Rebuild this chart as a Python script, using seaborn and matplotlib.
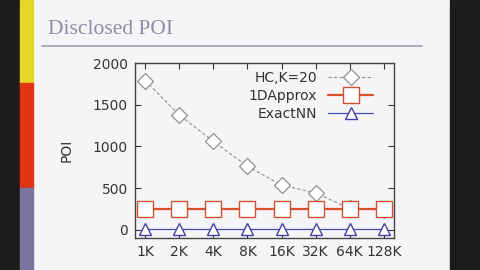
import matplotlib
matplotlib.use("Agg")
import matplotlib.pyplot as plt
from matplotlib.patches import Rectangle
from matplotlib.lines import Line2D
import seaborn as sns
import pandas as pd

categories = ["1K", "2K", "4K", "8K", "16K", "32K", "64K", "128K"]
hc_k20 = [1790, 1375, 1060, 760, 535, 440, 255, 232]
approx1d = [245, 245, 245, 245, 245, 245, 245, 245]
exact_nn = [8, 8, 8, 8, 8, 8, 8, 8]
series_names = ["HC,K=20", "1DApprox", "ExactNN"]
y_ticks = [0, 500, 1000, 1500, 2000]

sns.set_theme(style="ticks")
plt.rcParams['font.family'] = ['DejaVu Sans']

bg = "#f5f5f7"
fig = plt.figure(figsize=(4.8, 2.7), dpi=100, facecolor=bg)

# slide decorations
fig.patches.append(Rectangle((0, 0), 20/480, 1, transform=fig.transFigure, color="#1c1c1c", zorder=0))
fig.patches.append(Rectangle((450/480, 0), 30/480, 1, transform=fig.transFigure, color="#1c1c1c", zorder=0))
fig.patches.append(Rectangle((20/480, 1-83/270), 13/480, 83/270, transform=fig.transFigure, color="#e6d62a", zorder=0))
fig.patches.append(Rectangle((20/480, 1-188/270), 13/480, 105/270, transform=fig.transFigure, color="#e03412", zorder=0))
fig.patches.append(Rectangle((20/480, 0), 13/480, 82/270, transform=fig.transFigure, color="#7a74a0", zorder=0))
fig.lines.append(Line2D([42/480, 422/480], [1-46/270, 1-46/270], transform=fig.transFigure, color="#a0a0a8", lw=1.2))
fig.text(48/480, 1-29/270, "Disclosed POI", family="Liberation Serif", fontsize=15.5,
         color="#8c8ca4", va="center", ha="left")

ax = fig.add_axes([135/480, 1-238/270, 259/480, 175/270])
ax.set_facecolor(bg)

x = list(range(len(categories)))
df_hc = pd.DataFrame({"x": x, "y": hc_k20})
df_ap = pd.DataFrame({"x": x, "y": approx1d})
df_ex = pd.DataFrame({"x": x, "y": exact_nn})

sns.lineplot(data=df_hc, x="x", y="y", ax=ax, color="#909090", lw=0.8, linestyle=(0, (3, 2)),
             marker="D", ms=8, mfc="white", mec="#909090", mew=0.9, label=series_names[0])
sns.lineplot(data=df_ap, x="x", y="y", ax=ax, color="#d8502c", lw=1.6,
             marker="s", ms=11.5, mfc="white", mec="#d05030", mew=1.0, label=series_names[1])
sns.lineplot(data=df_ex, x="x", y="y", ax=ax, color="#4848b0", lw=0.9,
             marker="^", ms=8.5, mfc="white", mec="#4040a8", mew=1.0, label=series_names[2])

ax.set_xlim(-0.3, 7.3)
ax.set_ylim(-100, 2000)
ax.set_xticks(x)
ax.set_xticklabels(categories)
ax.set_yticks(y_ticks)
ax.set_xlabel("")
ax.set_ylabel("POI", fontsize=10, color="#333333", labelpad=14)
ax.tick_params(direction="in", top=True, right=True, length=4, width=0.8,
               labelsize=10, colors="#333333", pad=5)
for s in ax.spines.values():
    s.set_color("#444444")
    s.set_linewidth(1.0)

leg = ax.legend(loc="upper right", markerfirst=False, frameon=False, fontsize=10,
                handlelength=3.2, borderaxespad=0.1, labelspacing=0.3,
                bbox_to_anchor=(0.945, 0.995))
for t in leg.get_texts():
    t.set_color("#333333")

fig.savefig("out.png", dpi=100, facecolor=bg)
